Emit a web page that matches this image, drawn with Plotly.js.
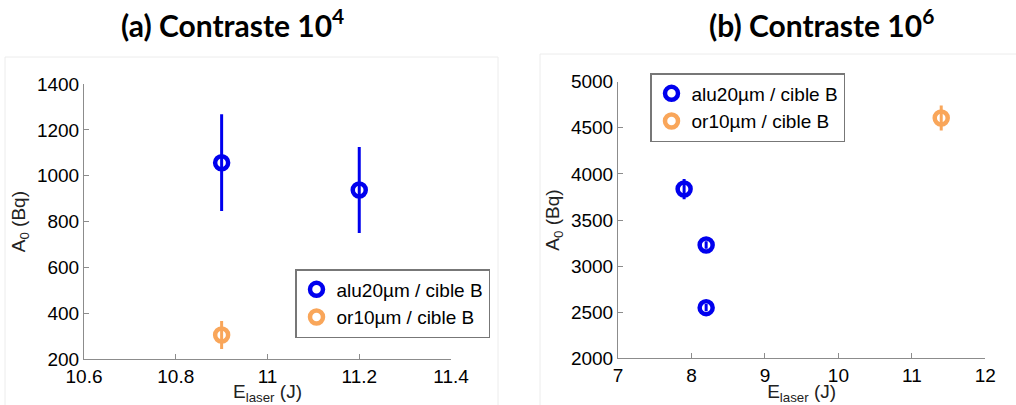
<!DOCTYPE html>
<html><head><meta charset="utf-8">
<script src="https://cdn.plot.ly/plotly-3.0.1.min.js"></script>
<style>html,body{margin:0;padding:0;background:#fff}#plot{width:1016px;height:405px}</style>
</head><body><div id="plot"></div>
<script>
// Panel (a) Contraste 10^4
const aAluX = [10.9, 11.2];
const aAluY = [1057, 938];
const aAluErr = [211, 187];
const aOrX = [10.9];
const aOrY = [306];
const aOrErr = [61];
// Panel (b) Contraste 10^6
const bAluX = [7.9, 8.2, 8.2];
const bAluY = [3836, 3229, 2549];
const bAluErr = [110, 40, 40];
const bOrX = [11.4];
const bOrY = [4606];
const bOrErr = [135];
const seriesNames = ["alu20µm / cible B", "or10µm / cible B"];
const titles = ["(a) Contraste 10<sup>4</sup>", "(b) Contraste 10<sup>6</sup>"];
const aXTicks = [10.6, 10.8, 11, 11.2, 11.4];
const aYTicks = [200, 400, 600, 800, 1000, 1200, 1400];
const bXTicks = [7, 8, 9, 10, 11, 12];
const bYTicks = [2000, 2500, 3000, 3500, 4000, 4500, 5000];

const BLUE = '#0000ee', ORANGE = '#f9a65a';
const W = 1016, H = 405;
function mk(x, y, err, color, name, xa, ya, leg, show) {
  return {x: x, y: y, type: 'scatter', mode: 'markers', name: name,
    xaxis: xa, yaxis: ya, legend: leg, showlegend: show,
    marker: {symbol: 'circle-open', size: 13, color: color, line: {width: 4.5, color: color}},
    error_y: {type: 'data', array: err, visible: true, color: color, thickness: 3, width: 0}};
}
const data = [
  mk(aAluX, aAluY, aAluErr, BLUE, seriesNames[0], 'x', 'y', 'legend', true),
  mk(aOrX, aOrY, aOrErr, ORANGE, seriesNames[1], 'x', 'y', 'legend', true),
  mk(bAluX, bAluY, bAluErr, BLUE, seriesNames[0], 'x2', 'y2', 'legend2', true),
  mk(bOrX, bOrY, bOrErr, ORANGE, seriesNames[1], 'x2', 'y2', 'legend2', true)
];
const FF = 'Liberation Sans, Arial, sans-serif';
const tickFont = {family: FF, size: 19, color: '#000'};
function ax(extra) {
  return Object.assign({showgrid: false, zeroline: false, showline: true, linecolor: '#8c8c8c', linewidth: 1,
    ticks: 'inside', ticklen: 5, tickcolor: '#8c8c8c', tickfont: tickFont, mirror: false}, extra);
}
const titleFont = {family: FF, size: 19, color: '#222'};
const legFont = {family: FF, size: 19, color: '#000'};
const layout = {
  width: W, height: H, margin: {l: 0, r: 0, t: 0, b: 0},
  paper_bgcolor: '#fff', plot_bgcolor: 'rgba(0,0,0,0)',
  xaxis: ax({domain: [84/W, 451/W], range: [10.6, 11.4], tickvals: aXTicks, anchor: 'y',
    title: {text: 'E<sub>laser</sub> (J)', font: titleFont, standoff: 0}}),
  yaxis: ax({domain: [(H-359.3)/H, (H-84)/H], range: [200, 1400], tickvals: aYTicks, anchor: 'x',
    title: {text: 'A<sub>0</sub> (Bq)', font: titleFont, standoff: 6}}),
  xaxis2: ax({domain: [618/W, 985.3/W], range: [7, 12], tickvals: bXTicks, anchor: 'y2',
    title: {text: 'E<sub>laser</sub> (J)', font: titleFont, standoff: 0}}),
  yaxis2: ax({domain: [(H-358.3)/H, (H-81.7)/H], range: [2000, 5000], tickvals: bYTicks, anchor: 'x2',
    title: {text: 'A<sub>0</sub> (Bq)', font: titleFont, standoff: 6}}),
  legend: {x: 295/W, y: (H-269)/H, xanchor: 'left', yanchor: 'top', bgcolor: '#fff',
    bordercolor: '#777', borderwidth: 1.5, font: legFont, itemwidth: 30, tracegroupgap: 0},
  legend2: {x: 650/W, y: (H-73)/H, xanchor: 'left', yanchor: 'top', bgcolor: '#fff',
    bordercolor: '#777', borderwidth: 1.5, font: legFont, itemwidth: 30, tracegroupgap: 0},
  annotations: [
    {text: titles[0], x: 232/W, y: 1 - 23/H, xref: 'paper', yref: 'paper', xanchor: 'center', yanchor: 'middle',
     showarrow: false, font: {family: 'Lato, Open Sans, sans-serif', size: 30, color: '#000', weight: 700}},
    {text: titles[1], x: 821/W, y: 1 - 23/H, xref: 'paper', yref: 'paper', xanchor: 'center', yanchor: 'middle',
     showarrow: false, font: {family: 'Lato, Open Sans, sans-serif', size: 30, color: '#000', weight: 700}}
  ],
  shapes: [
    {type: 'rect', xref: 'paper', yref: 'paper', x0: 5/W, x1: 498/W, y0: -0.05, y1: 1 - 57/H,
     line: {color: '#ececec', width: 1}, layer: 'below'},
    {type: 'rect', xref: 'paper', yref: 'paper', x0: 540/W, x1: 1.05, y0: -0.05, y1: 1 - 54/H,
     line: {color: '#ececec', width: 1}, layer: 'below'}
  ]
};
Plotly.newPlot('plot', data, layout, {displayModeBar: false, staticPlot: true});
</script></body></html>
